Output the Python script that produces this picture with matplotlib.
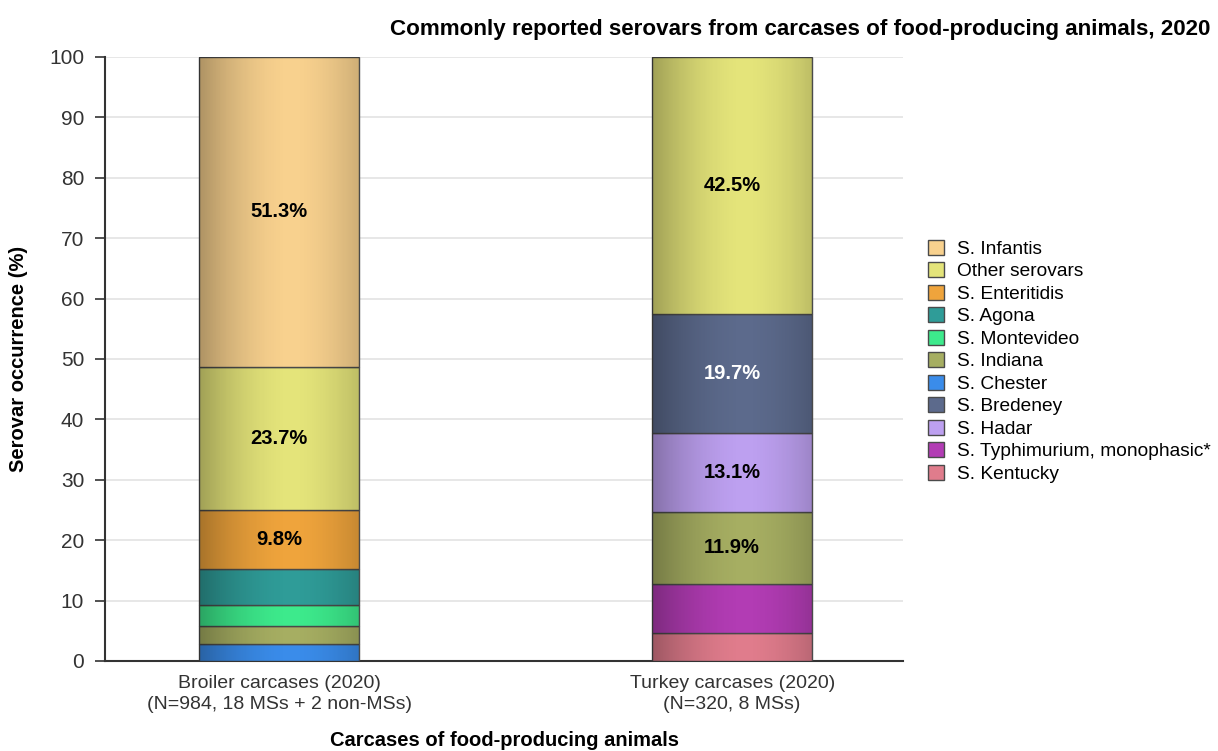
import matplotlib
matplotlib.use("Agg")
import matplotlib.pyplot as plt
import numpy as np

plt.rcParams['font.family'] = ['Liberation Sans', 'DejaVu Sans']

categories = ["Broiler carcases (2020)\n(N=984, 18 MSs + 2 non-MSs)",
              "Turkey carcases (2020)\n(N=320, 8 MSs)"]

# stacking order bottom -> top for each bar: (serovar, value)
broiler = [("S. Chester", 2.8), ("S. Indiana", 3.0), ("S. Montevideo", 3.5),
           ("S. Agona", 5.9), ("S. Enteritidis", 9.8),
           ("Other serovars", 23.7), ("S. Infantis", 51.3)]
turkey = [("S. Kentucky", 4.7), ("S. Typhimurium, monophasic*", 8.1),
          ("S. Indiana", 11.9), ("S. Hadar", 13.1), ("S. Bredeney", 19.7),
          ("Other serovars", 42.5)]

legend_order = ["S. Infantis", "Other serovars", "S. Enteritidis", "S. Agona",
                "S. Montevideo", "S. Indiana", "S. Chester", "S. Bredeney",
                "S. Hadar", "S. Typhimurium, monophasic*", "S. Kentucky"]

colors = {
    "S. Infantis": "#F8D18E",
    "Other serovars": "#E4E47A",
    "S. Enteritidis": "#EFA43C",
    "S. Agona": "#2F9C98",
    "S. Montevideo": "#3DEA8C",
    "S. Indiana": "#A6AE62",
    "S. Chester": "#3A8CEA",
    "S. Bredeney": "#5C6A8C",
    "S. Hadar": "#BDA0F0",
    "S. Typhimurium, monophasic*": "#B23CB4",
    "S. Kentucky": "#E07C8C",
}

label_min = 9.0  # smaller segments carry no value label
white_text = {"S. Bredeney"}

fig = plt.figure(figsize=(12.18, 7.51), dpi=100)
ax = fig.add_axes([105 / 1218, 90 / 751, 798 / 1218, 604 / 751])

# horizontal shading to give the bars a rounded look
xs = np.linspace(0, 1, 200)
shade = np.clip(np.abs(xs - 0.58) / 0.58, 0, 1) ** 1.8 * 0.3
shade_img = np.zeros((1, 200, 4))
shade_img[0, :, 3] = shade

width = 0.353
handles = {}
for i, stack in enumerate([broiler, turkey]):
    bottom = 0
    for name, val in stack:
        bar = ax.bar(i, val, width, bottom=bottom, color=colors[name],
                     edgecolor="#4a4a4a", linewidth=1.0, zorder=3)[0]
        im = ax.imshow(shade_img, extent=(i - width / 2, i + width / 2, bottom, bottom + val),
                       aspect="auto", zorder=3.5, interpolation="bilinear")
        im.set_clip_path(bar)
        handles[name] = bar
        if val >= label_min:
            ax.text(i, bottom + val / 2, f"{val}%", ha="center", va="center",
                    fontsize=14.5, fontweight="bold",
                    color="white" if name in white_text else "black", zorder=5)
        bottom += val

ax.set_xlim(-0.384, 1.377)
ax.set_ylim(0, 100)
ax.set_yticks(range(0, 101, 10))
ax.set_xticks([0, 1])
ax.set_xticklabels(categories, fontsize=14, color="#333333", linespacing=1.3)
ax.tick_params(axis="y", labelsize=15, labelcolor="#333333", length=7, width=1.2,
               color="#333333", pad=8)
ax.tick_params(axis="x", length=0, pad=10)
ax.yaxis.grid(True, color="#e3e3e3", linewidth=1.2, zorder=0)
ax.set_axisbelow(True)
for s in ["top", "right"]:
    ax.spines[s].set_visible(False)
for s in ["left", "bottom"]:
    ax.spines[s].set_color("#333333")
    ax.spines[s].set_linewidth(1.5)

ax.set_ylabel("Serovar occurrence (%)", fontsize=14.5, fontweight="bold", labelpad=15)
fig.text((105 + 798 / 2) / 1218, 1 - 741 / 751, "Carcases of food-producing animals",
         ha="center", va="center", fontsize=14.5, fontweight="bold")

fig.text(1210 / 1218, 1 - 30 / 751,
         "Commonly reported serovars from carcases of food-producing animals, 2020",
         ha="right", va="center", fontsize=16.1, fontweight="bold")

leg = ax.legend([handles[n] for n in legend_order], legend_order,
                loc="upper left", bbox_to_anchor=(920 / 1218, 1 - 232 / 751),
                bbox_transform=fig.transFigure, frameon=False, fontsize=13.8,
                handlelength=0.85, handleheight=0.85, handletextpad=0.7,
                labelspacing=0.22, borderaxespad=0)

fig.savefig("out.png", dpi=100)
